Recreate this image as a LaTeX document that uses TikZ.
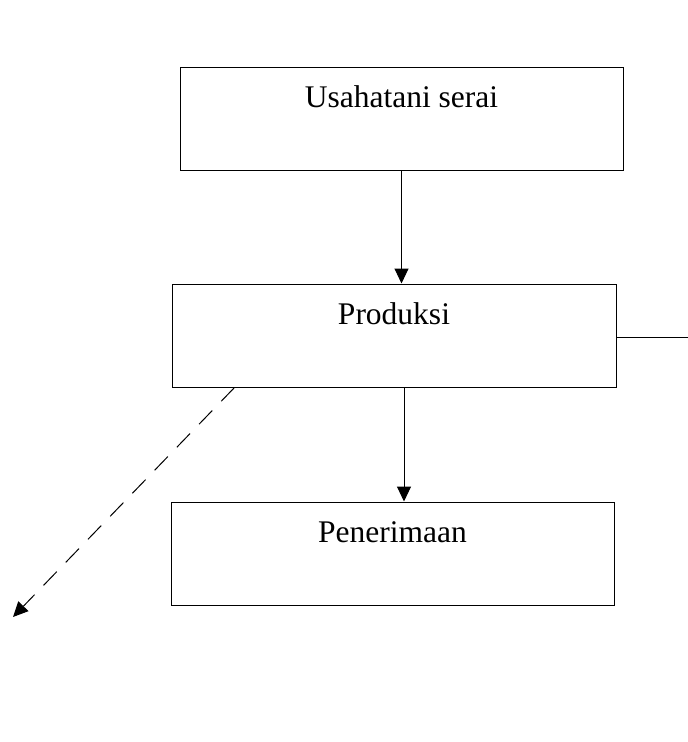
\documentclass[tikz,border=0pt]{standalone}
\usepackage{fontspec}
\setmainfont{Liberation Serif}
\usetikzlibrary{arrows.meta}
\begin{document}
\begin{tikzpicture}[x=1pt, y=-1pt, line width=1pt,
          every node/.style = {shape=rectangle, draw, inner sep=0pt, align=center, font=\fontsize{31.5}{36}\selectfont, text height=40pt, text depth=63pt},
          panah/.style={-{Triangle[length=15pt, width=14pt]}}]
          \useasboundingbox (0,0) rectangle (688,742);
          \node[minimum width=443pt] (usaha) at (401.5,118.5) {Usahatani serai};
          \node[minimum width=444pt] (produksi) at (394,335.5) {Produksi};
          \node[minimum width=443pt] (terima) at (392.5,553.5) {Penerimaan};
          \coordinate (kanan) at (688,337);
          \coordinate (bawah) at (13,617);
          \draw[panah] (usaha.south) -- (usaha.south |- produksi.north);
          \draw[panah] ([xshift=10pt]produksi.south) -- ([xshift=10pt]produksi.south |- terima.north);
          \draw (produksi.east |- kanan) -- (kanan);
          \draw[panah, dash pattern=on 19pt off 13pt] ([xshift=63pt]produksi.south west) -- (bawah);
\end{tikzpicture}
\end{document}
